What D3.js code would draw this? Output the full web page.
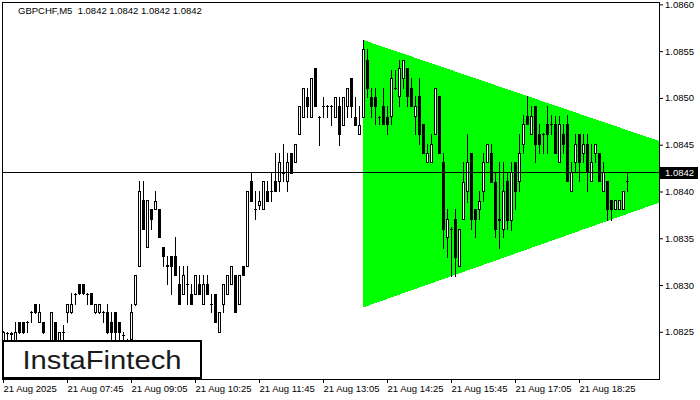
<!DOCTYPE html>
<html><head><meta charset="utf-8">
<script src="https://cdn.jsdelivr.net/npm/d3@7"></script>
<style>
body{margin:0;background:#fff}
svg{display:block}
text{font-family:"Liberation Sans",Arial,sans-serif}
</style>
</head><body>
<svg id="c" width="700" height="400"></svg>
<script>
const symbol = "GBPCHF,M5";
const lastQuote = ["1.0842","1.0842","1.0842","1.0842"];
const timeTickIndex = [0,16,32,48,64,80,96,112,128,144];
const timeTickLabels = ["21 Aug 2025","21 Aug 07:45","21 Aug 09:05","21 Aug 10:25","21 Aug 11:45",
  "21 Aug 13:05","21 Aug 14:25","21 Aug 15:45","21 Aug 17:05","21 Aug 18:25"];
const priceTicks = [1.0825,1.0830,1.0835,1.0840,1.0845,1.0850,1.0855,1.0860];
const currentPrice = 1.08421;
const logoText = "InstaFintech";

const open = [
1.08240,1.08249,1.08248,1.08241,1.08261,1.08261,1.08261,1.08271,1.08280,1.08261,
1.08261,1.08236,1.08241,1.08261,1.08241,1.08250,1.08271,1.08271,1.08290,1.08301,
1.08301,1.08290,1.08291,1.08271,1.08271,1.08271,1.08271,1.08261,1.08271,1.08261,
1.08247,1.08240,1.08242,1.08280,1.08320,1.08391,1.08341,1.08381,1.08381,1.08381,
1.08341,1.08321,1.08331,1.08331,1.08301,1.08290,1.08301,1.08290,1.08290,1.08301,
1.08280,1.08301,1.08280,1.08290,1.08250,1.08280,1.08290,1.08301,1.08311,1.08280,
1.08320,1.08320,1.08411,1.08381,1.08386,1.08381,1.08401,1.08401,1.08411,1.08411,
1.08420,1.08411,1.08441,1.08431,1.08461,1.08480,1.08501,1.08480,1.08532,1.08480,
1.08491,1.08491,1.08491,1.08480,1.08491,1.08471,1.08491,1.08521,1.08480,1.08461,
1.08480,1.08541,1.08501,1.08501,1.08480,1.08491,1.08480,1.08481,1.08511,1.08502,
1.08521,1.08532,1.08511,1.08481,1.08502,1.08472,1.08431,1.08431,1.08461,1.08502,
1.08431,1.08351,1.08360,1.08371,1.08320,1.08371,1.08400,1.08441,1.08381,1.08381,
1.08400,1.08431,1.08441,1.08410,1.08370,1.08360,1.08411,1.08370,1.08431,1.08411,
1.08451,1.08481,1.08461,1.08491,1.08461,1.08461,1.08472,1.08472,1.08472,1.08431,
1.08461,1.08472,1.08400,1.08431,1.08461,1.08441,1.08451,1.08411,1.08441,1.08441,
1.08400,1.08411,1.08391,1.08381,1.08381,1.08381,1.08411];
const close = [
1.08250,1.08249,1.08249,1.08250,1.08250,1.08250,1.08261,1.08271,1.08271,1.08271,
1.08250,1.08231,1.08271,1.08241,1.08250,1.08250,1.08280,1.08280,1.08290,1.08291,
1.08291,1.08290,1.08280,1.08280,1.08280,1.08271,1.08250,1.08250,1.08250,1.08250,
1.08247,1.08236,1.08271,1.08311,1.08401,1.08360,1.08391,1.08371,1.08390,1.08351,
1.08331,1.08320,1.08320,1.08311,1.08280,1.08311,1.08301,1.08280,1.08311,1.08290,
1.08301,1.08290,1.08280,1.08260,1.08271,1.08301,1.08311,1.08320,1.08271,1.08311,
1.08311,1.08401,1.08390,1.08381,1.08390,1.08411,1.08390,1.08401,1.08401,1.08431,
1.08420,1.08431,1.08420,1.08451,1.08491,1.08511,1.08491,1.08521,1.08491,1.08480,
1.08491,1.08491,1.08491,1.08501,1.08461,1.08501,1.08511,1.08491,1.08471,1.08471,
1.08552,1.08511,1.08491,1.08491,1.08480,1.08472,1.08472,1.08521,1.08511,1.08532,
1.08541,1.08502,1.08491,1.08491,1.08461,1.08441,1.08441,1.08451,1.08511,1.08441,
1.08360,1.08371,1.08360,1.08330,1.08360,1.08410,1.08431,1.08371,1.08371,1.08390,
1.08431,1.08451,1.08410,1.08360,1.08371,1.08401,1.08370,1.08421,1.08400,1.08441,
1.08472,1.08472,1.08481,1.08451,1.08451,1.08461,1.08461,1.08472,1.08441,1.08472,
1.08451,1.08411,1.08421,1.08451,1.08431,1.08451,1.08421,1.08431,1.08451,1.08411,
1.08421,1.08381,1.08381,1.08391,1.08391,1.08400,1.08411];
const high = [
1.08251,1.08250,1.08250,1.08261,1.08261,1.08261,1.08262,1.08272,1.08280,1.08280,
1.08261,1.08239,1.08271,1.08261,1.08250,1.08257,1.08280,1.08291,1.08291,1.08301,
1.08301,1.08291,1.08291,1.08280,1.08280,1.08272,1.08280,1.08271,1.08271,1.08261,
1.08250,1.08242,1.08280,1.08311,1.08411,1.08411,1.08391,1.08381,1.08401,1.08381,
1.08341,1.08331,1.08331,1.08351,1.08320,1.08320,1.08320,1.08301,1.08311,1.08311,
1.08311,1.08311,1.08290,1.08290,1.08271,1.08301,1.08311,1.08320,1.08311,1.08311,
1.08320,1.08401,1.08421,1.08401,1.08401,1.08411,1.08411,1.08420,1.08441,1.08441,
1.08451,1.08441,1.08441,1.08451,1.08491,1.08511,1.08511,1.08521,1.08532,1.08481,
1.08501,1.08492,1.08492,1.08501,1.08501,1.08501,1.08511,1.08521,1.08501,1.08491,
1.08562,1.08552,1.08511,1.08511,1.08481,1.08511,1.08491,1.08530,1.08530,1.08541,
1.08541,1.08532,1.08521,1.08502,1.08521,1.08472,1.08451,1.08461,1.08511,1.08502,
1.08441,1.08381,1.08362,1.08381,1.08360,1.08431,1.08461,1.08441,1.08381,1.08400,
1.08441,1.08451,1.08451,1.08420,1.08431,1.08431,1.08421,1.08431,1.08431,1.08461,
1.08482,1.08502,1.08491,1.08491,1.08472,1.08462,1.08491,1.08482,1.08481,1.08481,
1.08472,1.08482,1.08431,1.08461,1.08461,1.08461,1.08461,1.08451,1.08451,1.08441,
1.08431,1.08411,1.08391,1.08391,1.08391,1.08400,1.08421];
const low = [
1.08236,1.08240,1.08241,1.08240,1.08249,1.08249,1.08250,1.08261,1.08270,1.08260,
1.08249,1.08229,1.08240,1.08236,1.08240,1.08242,1.08261,1.08270,1.08280,1.08290,
1.08290,1.08280,1.08280,1.08270,1.08270,1.08261,1.08249,1.08241,1.08242,1.08241,
1.08241,1.08233,1.08241,1.08279,1.08320,1.08360,1.08341,1.08360,1.08381,1.08351,
1.08320,1.08301,1.08290,1.08311,1.08280,1.08290,1.08280,1.08280,1.08290,1.08290,
1.08280,1.08290,1.08271,1.08260,1.08250,1.08271,1.08290,1.08301,1.08271,1.08280,
1.08311,1.08320,1.08390,1.08371,1.08381,1.08381,1.08390,1.08390,1.08401,1.08401,
1.08411,1.08401,1.08420,1.08431,1.08461,1.08480,1.08480,1.08480,1.08491,1.08450,
1.08480,1.08480,1.08471,1.08480,1.08450,1.08471,1.08480,1.08480,1.08471,1.08461,
1.08480,1.08501,1.08480,1.08472,1.08472,1.08472,1.08461,1.08472,1.08510,1.08491,
1.08511,1.08491,1.08491,1.08461,1.08451,1.08441,1.08431,1.08431,1.08461,1.08441,
1.08340,1.08330,1.08310,1.08310,1.08320,1.08371,1.08389,1.08360,1.08351,1.08371,
1.08390,1.08431,1.08410,1.08351,1.08340,1.08351,1.08360,1.08359,1.08381,1.08400,
1.08441,1.08472,1.08461,1.08431,1.08441,1.08441,1.08441,1.08461,1.08441,1.08431,
1.08441,1.08411,1.08400,1.08421,1.08411,1.08431,1.08400,1.08411,1.08431,1.08411,
1.08400,1.08370,1.08370,1.08381,1.08381,1.08381,1.08400];

// triangle pattern (bar index at start / right edge, price at upper / lower line)
const triangleIndex = [90, 164];
const triangleUpper = [1.08562, 1.08454];
const triangleLower = [1.08276, 1.08388];

const svg = d3.select("#c");
const L = 2, T = 2, R = 659, B = 379;

const x = d3.scaleLinear().domain([0, 164]).range([3, 659]);
const y = d3.scaleLinear().domain([1.0825, 1.0860]).range([331.8, 4.4]);
const px = v => Math.round(x(v));
const py = v => Math.round(y(v));

svg.append("rect").attr("width",700).attr("height",400).attr("fill","#fff");

svg.append("clipPath").attr("id","plot").append("rect")
  .attr("x",L+1).attr("y",T+1).attr("width",R-L-1).attr("height",B-T-1);

const plot = svg.append("g").attr("clip-path","url(#plot)");

// triangle
const triPts = [
  [x(triangleIndex[0]), y(triangleUpper[0])],
  [x(triangleIndex[1]), y(triangleUpper[1])],
  [x(triangleIndex[1]), y(triangleLower[1])],
  [x(triangleIndex[0]), y(triangleLower[0])]
];
plot.append("path").attr("d", d3.line()(triPts) + "Z")
  .attr("fill","#00ff00").attr("shape-rendering","crispEdges");

// candles
const bars = d3.range(open.length).map(i => ({i, o:open[i], h:high[i], l:low[i], c:close[i]}));
const g = plot.append("g").attr("shape-rendering","crispEdges");
bars.forEach(d => {
  const cx = px(d.i);
  const yh = py(d.h), yl = py(d.l);
  const yo = py(d.o), yc = py(d.c);
  g.append("line").attr("x1",cx+0.5).attr("x2",cx+0.5)
    .attr("y1",yh).attr("y2",yl+1).attr("stroke","#000").attr("stroke-width",1);
  const top = Math.min(yo,yc), bot = Math.max(yo,yc);
  if (bot - top < 1) {
    g.append("line").attr("x1",cx-1).attr("x2",cx+2)
      .attr("y1",top+0.5).attr("y2",top+0.5).attr("stroke","#000");
  } else {
    g.append("rect").attr("x",cx-0.5).attr("y",top+0.5)
      .attr("width",2).attr("height",bot-top)
      .attr("fill", d.c > d.o ? "#fff" : "#000").attr("stroke","#000").attr("stroke-width",1);
  }
});

// current price line
plot.append("line").attr("x1",L).attr("x2",R)
  .attr("y1",py(currentPrice)+0.5).attr("y2",py(currentPrice)+0.5)
  .attr("stroke","#000").attr("stroke-width",1);

// logo box
const logo = svg.append("g");
logo.append("rect").attr("x",3).attr("y",341).attr("width",198).attr("height",37)
  .attr("fill","#fff").attr("stroke","#000").attr("stroke-width",2);
logo.append("text").attr("x",22.5).attr("y",369).text(logoText)
  .attr("font-family","Roboto, 'Open Sans', sans-serif").attr("font-weight",500)
  .attr("font-size",26.5).attr("fill","#1a1a1a")
  .attr("textLength",159).attr("lengthAdjust","spacingAndGlyphs");

// frame
svg.append("rect").attr("x",L+0.5).attr("y",T+0.5).attr("width",R-L).attr("height",B-T)
  .attr("fill","none").attr("stroke","#000").attr("stroke-width",1);

// right axis
const ya = svg.append("g").attr("transform",`translate(${R},0)`)
  .call(d3.axisRight(y).tickValues(priceTicks).tickSize(4).tickPadding(2).tickFormat(d3.format(".4f")));
ya.select(".domain").remove();
ya.selectAll("text").attr("font-family","'Liberation Sans',Arial,sans-serif").attr("font-size",9.5).attr("fill","#000");
ya.selectAll("line").attr("stroke","#000");

// current price label
const cy = py(currentPrice);
svg.append("rect").attr("x",R+1).attr("y",cy-5).attr("width",38).attr("height",12).attr("fill","#000");
svg.append("text").attr("x",R+6).attr("y",cy+4).text(d3.format(".4f")(currentPrice))
  .attr("font-size",9.5).attr("fill","#fff");

// bottom axis
const xa = svg.append("g").attr("transform",`translate(0,${B})`)
  .call(d3.axisBottom(x).tickValues(timeTickIndex).tickSize(4).tickPadding(2)
    .tickFormat((d,i) => timeTickLabels[i]));
xa.select(".domain").remove();
xa.selectAll("text").attr("text-anchor","start").attr("font-family","'Liberation Sans',Arial,sans-serif")
  .attr("font-size",9.5).attr("fill","#000");
xa.selectAll("line").attr("stroke","#000");

// title
svg.append("text").attr("x",18).attr("y",14).attr("font-size",9.5).attr("fill","#000")
  .style("white-space","pre")
  .text(symbol + "  " + lastQuote.join(" "));
</script>
</body></html>
